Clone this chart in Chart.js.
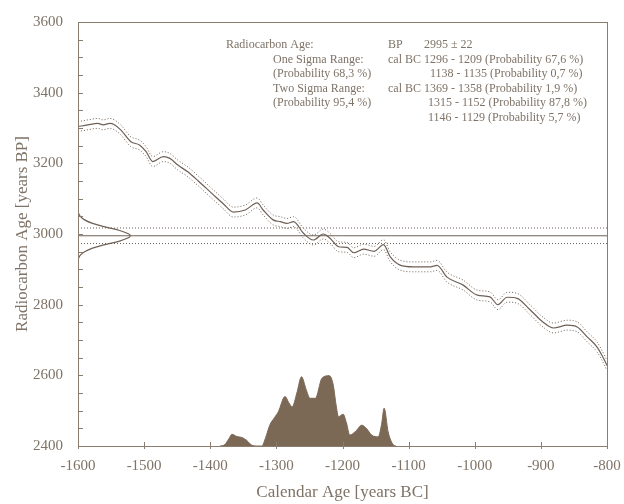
<!DOCTYPE html>
<html>
<head>
<meta charset="utf-8">
<script src="https://cdn.jsdelivr.net/npm/chart.js@4/dist/chart.umd.min.js"></script>
<style>
  html, body { margin: 0; padding: 0; background: #fff; }
</style>
</head>
<body>
<canvas id="calChart" width="624" height="504"></canvas>
<script>
// calibration curve: calendar year (BC as negative) and radiocarbon age BP
const curveYears = [-1600, -1585, -1570, -1562, -1552, -1545, -1535, -1520, -1507, -1497, -1487, -1471, -1461, -1449, -1434, -1418, -1396, -1380, -1365, -1347, -1329, -1320, -1305, -1294, -1284, -1274, -1259, -1244, -1229, -1219, -1206, -1193, -1183, -1168, -1152, -1138, -1128, -1113, -1093, -1067, -1057, -1042, -1018, -996, -977, -965, -951, -936, -916, -897, -881, -860, -845, -830, -815, -803, -800];
const curveBP = [3304, 3309, 3313, 3309, 3313, 3309, 3294, 3261, 3252, 3233, 3205, 3219, 3214, 3195, 3176, 3150, 3112, 3085, 3062, 3068, 3088, 3068, 3040, 3035, 3030, 3035, 3002, 2983, 3000, 2988, 2964, 2962, 2947, 2957, 2951, 2970, 2936, 2912, 2907, 2907, 2911, 2878, 2856, 2827, 2822, 2800, 2821, 2818, 2785, 2751, 2734, 2742, 2737, 2709, 2680, 2640, 2628];
const curveSigma = 14;

// measured radiocarbon age
const measuredBP = 2995;
const measuredErr = 22;

// measured age distribution along the y axis (width in years from the left edge)
const gaussBP = [3062, 3050, 3040, 3030, 3020, 3010, 3000, 2995, 2990, 2980, 2970, 2960, 2950, 2940, 2928];
const gaussWidth = [0, 3.5, 10, 22, 41, 63, 77, 79, 77, 63, 41, 22, 10, 3.5, 0];

// calibrated date distribution (height in BP units above the 2400 baseline)
const probYears = [-1385, -1378, -1372, -1367, -1360, -1352, -1345, -1337, -1330, -1322, -1316, -1310, -1303, -1297, -1287, -1281, -1276, -1269, -1262, -1255, -1249, -1241, -1231, -1220, -1214, -1210, -1206, -1199, -1194, -1189, -1180, -1171, -1163, -1156, -1146, -1141, -1137, -1131, -1127, -1123, -1119];
const probHeight = [0, 4, 20, 33, 27, 24, 16, 2, 0, 0, 25, 59, 80, 97, 140, 122, 111, 150, 196, 160, 135, 135, 192, 199, 173, 120, 83, 90, 65, 31, 42, 59, 48, 31, 26, 60, 107, 40, 16, 3, 0];

const xMin = -1600, xMax = -800, xStep = 100;
const yMin = 2400, yMax = 3600, yStep = 50, yLabelStep = 200;

const infoLeft = ["Radiocarbon Age:", "One Sigma Range:", "(Probability 68,3 %)", "Two Sigma Range:", "(Probability 95,4 %)"];
const infoUnit = ["BP", "cal BC", "", "cal BC", "", ""];
const infoRanges = [
  "2995 \u00b1 22",
  "1296 - 1209 (Probability 67,6 %)",
  "1138 - 1135 (Probability 0,7 %)",
  "1369 - 1358 (Probability 1,9 %)",
  "1315 - 1152 (Probability 87,8 %)",
  "1146 - 1129 (Probability 5,7 %)"
];

const serif = "'Liberation Serif', 'DejaVu Serif', serif";
const axisColor = "#8a7c6f";
const textColor = "#7f7367";
const lineColor = "#6e6057";
const fillColor = "#7b6855";

const curve = curveYears.map((x, i) => ({ x, y: curveBP[i] }));
const curveHi = curveYears.map((x, i) => ({ x, y: curveBP[i] + curveSigma }));
const curveLo = curveYears.map((x, i) => ({ x, y: curveBP[i] - curveSigma }));
const gauss = gaussBP.map((y, i) => ({ x: xMin + gaussWidth[i], y }));
const prob = probYears.map((x, i) => ({ x, y: yMin + probHeight[i] }));
const hLine = v => [{ x: xMin, y: v }, { x: xMax, y: v }];

const frameAndText = {
  id: "frameAndText",
  afterDraw(chart) {
    const { ctx, chartArea: a, scales: { x, y } } = chart;
    ctx.save();
    ctx.strokeStyle = axisColor;
    ctx.lineWidth = 1;
    ctx.strokeRect(Math.round(a.left) + 0.5, Math.round(a.top) + 0.5, Math.round(a.right - a.left), Math.round(a.bottom - a.top));
    ctx.beginPath();
    y.ticks.forEach(t => {
      const py = Math.round(y.getPixelForValue(t.value)) + 0.5;
      ctx.moveTo(a.left, py);
      ctx.lineTo(a.left + 5, py);
    });
    x.ticks.forEach(t => {
      const px = Math.round(x.getPixelForValue(t.value)) + 0.5;
      ctx.moveTo(px, a.bottom - 4);
      ctx.lineTo(px, a.bottom + 3);
    });
    ctx.stroke();

    ctx.fillStyle = textColor;
    ctx.font = "12px " + serif;
    ctx.textBaseline = "middle";
    const rowY = [45, 59.5, 74, 88.5, 103, 117.5];
    ctx.fillText(infoLeft[0], 226, rowY[0]);
    for (let i = 1; i < infoLeft.length; i++) ctx.fillText(infoLeft[i], 273, rowY[i]);
    infoUnit.forEach((u, i) => { if (u) ctx.fillText(u, 388, rowY[i]); });
    const rangeX = [424, 424, 430, 424, 428, 428];
    infoRanges.forEach((r, i) => ctx.fillText(r, rangeX[i], rowY[i]));
    ctx.restore();
  }
};

const ctx = document.getElementById("calChart").getContext("2d");

new Chart(ctx, {
  type: "scatter",
  data: {
    datasets: [
      { data: prob, showLine: true, fill: "start", backgroundColor: fillColor, borderColor: fillColor, borderWidth: 1, pointRadius: 0, cubicInterpolationMode: "monotone" },
      { data: hLine(measuredBP), showLine: true, borderColor: lineColor, borderWidth: 1, pointRadius: 0 },
      { data: hLine(measuredBP + measuredErr), showLine: true, borderColor: lineColor, borderWidth: 1, borderDash: [1, 2], pointRadius: 0 },
      { data: hLine(measuredBP - measuredErr), showLine: true, borderColor: lineColor, borderWidth: 1, borderDash: [1, 2], pointRadius: 0 },
      { data: gauss, showLine: true, borderColor: lineColor, borderWidth: 1.2, pointRadius: 0, tension: 0.4 },
      { data: curveHi, showLine: true, borderColor: lineColor, borderWidth: 1, borderDash: [1, 2], pointRadius: 0, cubicInterpolationMode: "monotone" },
      { data: curve, showLine: true, borderColor: lineColor, borderWidth: 1.2, pointRadius: 0, cubicInterpolationMode: "monotone" },
      { data: curveLo, showLine: true, borderColor: lineColor, borderWidth: 1, borderDash: [1, 2], pointRadius: 0, cubicInterpolationMode: "monotone" }
    ]
  },
  options: {
    responsive: false,
    animation: false,
    layout: { padding: { top: 22, right: 17, left: 0, bottom: 0 } },
    plugins: { legend: { display: false }, tooltip: { enabled: false } },
    scales: {
      x: {
        type: "linear", min: xMin, max: xMax,
        grid: { display: false, drawTicks: false },
        border: { display: false },
        ticks: { stepSize: xStep, autoSkip: false, maxRotation: 0, padding: 11, color: textColor, font: { family: serif, size: 15 }, callback: v => String(v) },
        title: { display: true, text: "Calendar Age [years BC]", color: textColor, font: { family: serif, size: 17 }, padding: { top: 0, bottom: 1 } },
        afterFit(s) { s.height = 58; s.paddingLeft = 0; s.paddingRight = 0; }
      },
      y: {
        type: "linear", min: yMin, max: yMax,
        grid: { display: false, drawTicks: false },
        border: { display: false },
        ticks: { stepSize: yStep, autoSkip: false, padding: 15, color: textColor, font: { family: serif, size: 15 }, callback: v => (v % yLabelStep === 0 ? String(v) : "") },
        title: { display: true, text: "Radiocarbon Age [years BP]", color: textColor, font: { family: serif, size: 17 }, padding: { top: 12, bottom: 0 } },
        afterFit(s) { s.width = 78; s.paddingTop = 0; s.paddingBottom = 0; }
      }
    }
  },
  plugins: [frameAndText]
});
</script>
</body>
</html>
